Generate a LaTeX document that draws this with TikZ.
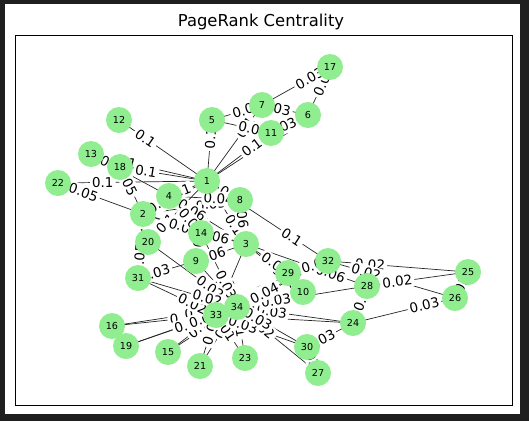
\documentclass[tikz,border=0pt]{standalone}
\usepackage{fontspec}
\setmainfont{DejaVu Sans}
\usetikzlibrary{calc}
\definecolor{nodegreen}{RGB}{144,238,144}
\definecolor{framegray}{RGB}{31,31,31}
\pgfdeclarelayer{frame}
\pgfdeclarelayer{links}
\pgfsetlayers{frame,links,main}
\tikzstyle{member}=[circle,fill=nodegreen,minimum size=26pt,inner sep=0pt,font=\fontsize{9.6}{9.6}\selectfont]
\tikzstyle{link}=[draw=black!85,line width=0.7pt]
\tikzstyle{weight}=[sloped,fill=white,rounded corners=3pt,inner sep=2.2pt,font=\fontsize{13.5}{13.5}\selectfont]
\def\edgelist{1/2/0.1,1/3/0.1,1/4/0.1,1/5/0.1,1/6/0.1,1/7/0.1,1/8/0.1,1/9/0.1,1/11/0.1,1/12/0.1,1/13/0.1,1/14/0.1,1/18/0.1,1/20/0.1,1/22/0.1,1/32/0.1,
2/3/0.05,2/4/0.05,2/8/0.05,2/14/0.05,2/18/0.05,2/20/0.05,2/22/0.05,2/31/0.05,
3/4/0.06,3/8/0.06,3/9/0.06,3/10/0.06,3/14/0.06,3/28/0.06,3/29/0.06,3/33/0.06,
4/8/0.04,4/13/0.04,4/14/0.04,5/7/0.02,5/11/0.02,6/7/0.03,6/11/0.03,6/17/0.03,7/17/0.03,
9/31/0.03,9/33/0.03,9/34/0.03,10/34/0.01,14/34/0.03,15/33/0.01,15/34/0.01,16/33/0.01,16/34/0.01,
19/33/0.01,19/34/0.01,20/34/0.02,21/33/0.01,21/34/0.01,23/33/0.01,23/34/0.01,
24/26/0.03,24/28/0.03,24/30/0.03,24/33/0.03,24/34/0.03,25/26/0.02,25/28/0.02,25/32/0.02,26/32/0.02,
27/30/0.02,27/34/0.02,28/34/0.03,29/32/0.02,29/34/0.02,30/33/0.03,30/34/0.03,31/33/0.02,31/34/0.02,
32/33/0.04,32/34/0.04,33/34/0.07}
\begin{document}
\begin{tikzpicture}[x=1pt,y=-1pt]

\useasboundingbox (0,0) rectangle (529,421);
\begin{pgfonlayer}{frame}
\fill[framegray] (0,0) rectangle (529,421);
\fill[white] (5,4) rectangle (520,414);
\draw[line width=1pt] (15,35) rectangle (512,405);
\end{pgfonlayer}

\node (title) at (261,22) {\fontsize{16.4}{16.4}\selectfont PageRank Centrality};

\node[member] (n1) at (207,181) {1};
\node[member] (n2) at (143,214) {2};
\node[member] (n3) at (246,244) {3};
\node[member] (n4) at (169,196) {4};
\node[member] (n5) at (212,120) {5};
\node[member] (n6) at (308,115) {6};
\node[member] (n7) at (262,105) {7};
\node[member] (n8) at (240,200) {8};
\node[member] (n9) at (196,261) {9};
\node[member] (n10) at (303,292) {10};
\node[member] (n11) at (271,133) {11};
\node[member] (n12) at (119,120) {12};
\node[member] (n13) at (91,154) {13};
\node[member] (n14) at (201,233) {14};
\node[member] (n15) at (168,352) {15};
\node[member] (n16) at (112,326) {16};
\node[member] (n17) at (330,67) {17};
\node[member] (n18) at (120,167) {18};
\node[member] (n19) at (126,346) {19};
\node[member] (n20) at (148,242) {20};
\node[member] (n21) at (200,366) {21};
\node[member] (n22) at (58,183) {22};
\node[member] (n23) at (245,358) {23};
\node[member] (n24) at (353,323) {24};
\node[member] (n25) at (468,272) {25};
\node[member] (n26) at (455,298) {26};
\node[member] (n27) at (318,373) {27};
\node[member] (n28) at (367,286) {28};
\node[member] (n29) at (288,273) {29};
\node[member] (n30) at (307,347) {30};
\node[member] (n31) at (138,278) {31};
\node[member] (n32) at (328,261) {32};
\node[member] (n33) at (216,315) {33};
\node[member] (n34) at (237,307) {34};

\begin{pgfonlayer}{links}
\foreach \a/\b/\w in \edgelist
  \draw [link] (n\a.center) -- (n\b.center);
\foreach \a/\b/\w in \edgelist
  \path (n\a.center) -- (n\b.center) node[weight,pos=0.7] {\w};
\end{pgfonlayer}

\end{tikzpicture}
\end{document}
